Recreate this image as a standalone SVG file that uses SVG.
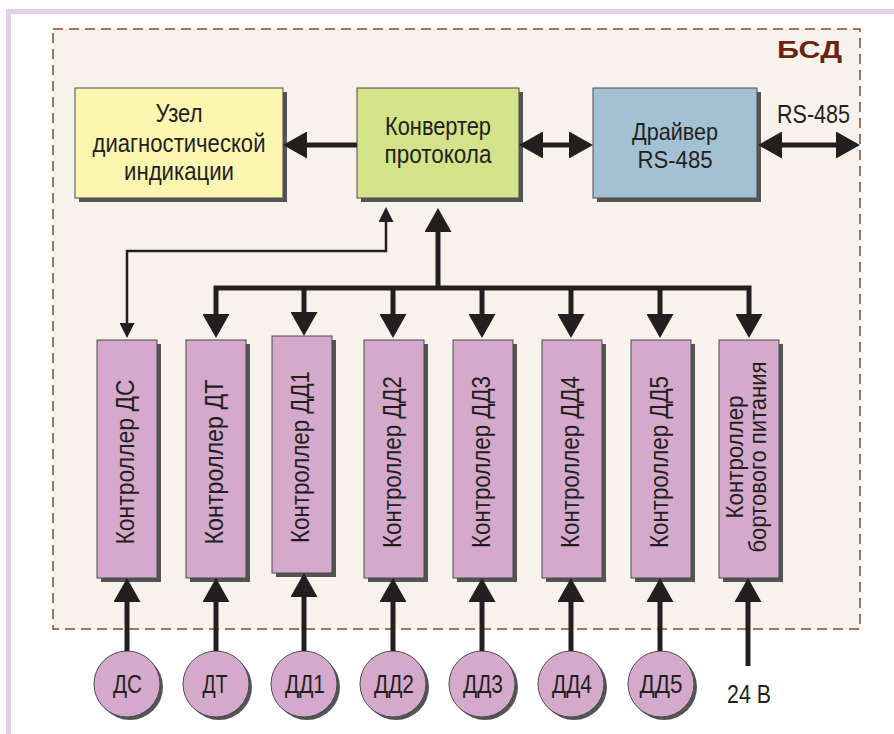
<svg xmlns="http://www.w3.org/2000/svg" width="894" height="734" viewBox="0 0 894 734">
  <style>
    .t { font-family: "Liberation Sans", Arial, sans-serif; font-size: 26px; fill: #231f20; text-anchor: middle; }
    .sh { fill: #545454; }
    .box { stroke: #4a4a4a; stroke-width: 1; }
    .yel { fill: #fdf6b0; }
    .grn { fill: #d4e28a; }
    .blu { fill: #a4c1d3; }
    .pur { fill: #d4a9cc; }
    .thick { fill: none; stroke: #231f20; stroke-width: 5; stroke-linejoin: miter; }
    .thin { fill: none; stroke: #231f20; stroke-width: 2.5; stroke-linejoin: miter; }
  </style>
  <defs>
    <marker id="ah" markerUnits="userSpaceOnUse" viewBox="0 0 24 27" markerWidth="24" markerHeight="27" refX="0" refY="13.5" orient="auto-start-reverse">
      <path d="M0,0 L24,13.5 L0,27 z" fill="#231f20"/>
    </marker>
    <marker id="as" markerUnits="userSpaceOnUse" viewBox="0 0 15 15" markerWidth="15" markerHeight="15" refX="0" refY="7.5" orient="auto-start-reverse">
      <path d="M0,0 L15,7.5 L0,15 z" fill="#231f20"/>
    </marker>
  </defs>

  <!-- page -->
  <rect width="894" height="734" fill="#ffffff"/>
  <path d="M8.5,734 V11.5 H894" fill="none" stroke="#e2d0e8" stroke-width="5"/>

  <!-- block boundary -->
  <g id="bsd">
    <rect x="53" y="29" width="807" height="600" fill="#f7f3ec" stroke="#8b4a2b" stroke-width="1.5" stroke-dasharray="10 6"/>
    <text x="809.5" y="58" textLength="65" lengthAdjust="spacingAndGlyphs" style="font-family:'Liberation Sans',Arial,sans-serif;font-size:24px;font-weight:bold;fill:#6b2410;text-anchor:middle">БСД</text>
  </g>

  <g id="node-indication">
    <rect class="sh" x="79" y="92" width="208" height="110"/>
    <rect class="box yel" x="75" y="88" width="208" height="110"/>
    <text class="t" x="179" y="122" textLength="47" lengthAdjust="spacingAndGlyphs">Узел</text>
    <text class="t" x="179" y="152" textLength="173" lengthAdjust="spacingAndGlyphs">диагностической</text>
    <text class="t" x="179" y="180" textLength="110" lengthAdjust="spacingAndGlyphs">индикации</text>
  </g>

  <g id="node-converter">
    <rect class="sh" x="361" y="92" width="162" height="110"/>
    <rect class="box grn" x="357" y="88" width="162" height="110"/>
    <text class="t" x="438" y="135" textLength="106" lengthAdjust="spacingAndGlyphs">Конвертер</text>
    <text class="t" x="438" y="163" textLength="107" lengthAdjust="spacingAndGlyphs">протокола</text>
  </g>

  <g id="node-driver">
    <rect class="sh" x="597" y="92" width="164" height="110"/>
    <rect class="box blu" x="593" y="88" width="164" height="110"/>
    <text class="t" style="font-size:24px" x="675" y="140" textLength="86" lengthAdjust="spacingAndGlyphs">Драйвер</text>
    <text class="t" style="font-size:24px" x="675" y="168" textLength="75" lengthAdjust="spacingAndGlyphs">RS-485</text>
  </g>

  <text class="t" x="813.5" y="123" textLength="73" lengthAdjust="spacingAndGlyphs">RS-485</text>

  <!-- controllers -->
  <g id="ctrl-ds">
    <rect class="sh" x="101" y="344" width="60" height="238"/>
    <rect class="box pur" x="97" y="340" width="60" height="238"/>
    <text class="t" transform="translate(134,462) rotate(-90)" textLength="165" lengthAdjust="spacingAndGlyphs">Контроллер ДС</text>
  </g>
  <g id="ctrl-dt">
    <rect class="sh" x="190" y="344" width="60" height="238"/>
    <rect class="box pur" x="186" y="340" width="60" height="238"/>
    <text class="t" transform="translate(223,462) rotate(-90)" textLength="165" lengthAdjust="spacingAndGlyphs">Контроллер ДТ</text>
  </g>
  <g id="ctrl-dd1">
    <rect class="sh" x="276" y="340" width="60" height="237"/>
    <rect class="box pur" x="272" y="336" width="60" height="237"/>
    <text class="t" transform="translate(309,457) rotate(-90)" textLength="172" lengthAdjust="spacingAndGlyphs">Контроллер ДД1</text>
  </g>
  <g id="ctrl-dd2">
    <rect class="sh" x="368" y="344" width="60" height="238"/>
    <rect class="box pur" x="364" y="340" width="60" height="238"/>
    <text class="t" transform="translate(401,462) rotate(-90)" textLength="172" lengthAdjust="spacingAndGlyphs">Контроллер ДД2</text>
  </g>
  <g id="ctrl-dd3">
    <rect class="sh" x="457" y="344" width="60" height="238"/>
    <rect class="box pur" x="453" y="340" width="60" height="238"/>
    <text class="t" transform="translate(490,462) rotate(-90)" textLength="172" lengthAdjust="spacingAndGlyphs">Контроллер ДД3</text>
  </g>
  <g id="ctrl-dd4">
    <rect class="sh" x="546" y="344" width="60" height="238"/>
    <rect class="box pur" x="542" y="340" width="60" height="238"/>
    <text class="t" transform="translate(579,462) rotate(-90)" textLength="172" lengthAdjust="spacingAndGlyphs">Контроллер ДД4</text>
  </g>
  <g id="ctrl-dd5">
    <rect class="sh" x="635" y="344" width="60" height="238"/>
    <rect class="box pur" x="631" y="340" width="60" height="238"/>
    <text class="t" transform="translate(668,462) rotate(-90)" textLength="172" lengthAdjust="spacingAndGlyphs">Контроллер ДД5</text>
  </g>
  <g id="ctrl-power">
    <rect class="sh" x="723" y="344" width="60" height="238"/>
    <rect class="box pur" x="719" y="340" width="60" height="238"/>
    <text class="t" style="font-size:24px" transform="translate(743,457) rotate(-90)" textLength="123" lengthAdjust="spacingAndGlyphs">Контроллер</text>
    <text class="t" style="font-size:24px" transform="translate(766,457) rotate(-90)" textLength="191" lengthAdjust="spacingAndGlyphs">бортового питания</text>
  </g>

  <!-- sensors -->
  <g id="sensor-ds">
    <circle class="sh" cx="130" cy="687" r="33"/>
    <circle class="box pur" cx="127" cy="684" r="33"/>
    <text class="t" x="127.5" y="693" textLength="29" lengthAdjust="spacingAndGlyphs">ДС</text>
  </g>
  <g id="sensor-dt">
    <circle class="sh" cx="219" cy="687" r="33"/>
    <circle class="box pur" cx="216" cy="684" r="33"/>
    <text class="t" x="215" y="693" textLength="25" lengthAdjust="spacingAndGlyphs">ДТ</text>
  </g>
  <g id="sensor-dd1">
    <circle class="sh" cx="307" cy="687" r="33"/>
    <circle class="box pur" cx="304" cy="684" r="33"/>
    <text class="t" x="305" y="693" textLength="40" lengthAdjust="spacingAndGlyphs">ДД1</text>
  </g>
  <g id="sensor-dd2">
    <circle class="sh" cx="396" cy="687" r="33"/>
    <circle class="box pur" cx="393" cy="684" r="33"/>
    <text class="t" x="394" y="693" textLength="40" lengthAdjust="spacingAndGlyphs">ДД2</text>
  </g>
  <g id="sensor-dd3">
    <circle class="sh" cx="485" cy="687" r="33"/>
    <circle class="box pur" cx="482" cy="684" r="33"/>
    <text class="t" x="483" y="693" textLength="40" lengthAdjust="spacingAndGlyphs">ДД3</text>
  </g>
  <g id="sensor-dd4">
    <circle class="sh" cx="574" cy="687" r="33"/>
    <circle class="box pur" cx="571" cy="684" r="33"/>
    <text class="t" x="572" y="693" textLength="40" lengthAdjust="spacingAndGlyphs">ДД4</text>
  </g>
  <g id="sensor-dd5">
    <circle class="sh" cx="664" cy="687" r="33"/>
    <circle class="box pur" cx="661" cy="684" r="33"/>
    <text class="t" x="661" y="693" textLength="43" lengthAdjust="spacingAndGlyphs">ДД5</text>
  </g>
  <text class="t" x="749" y="703" textLength="44" lengthAdjust="spacingAndGlyphs">24 В</text>

  <!-- connectors -->
  <g id="connectors">
    <path class="thick" d="M357,145 H307" marker-end="url(#ah)"/>
    <path class="thick" d="M543,145 H569" marker-start="url(#ah)" marker-end="url(#ah)"/>
    <path class="thick" d="M782,145 H836" marker-start="url(#ah)" marker-end="url(#ah)"/>
    <path class="thin" d="M127,323 V251 H386 V222" marker-start="url(#as)" marker-end="url(#as)"/>
    <path class="thick" d="M438,288 V232" marker-end="url(#ah)"/>
    <path class="thick" d="M216,314 V288 H749 V314" marker-start="url(#ah)" marker-end="url(#ah)"/>
    <path class="thick" d="M304,288 V312" marker-end="url(#ah)"/>
    <path class="thick" d="M393,288 V314" marker-end="url(#ah)"/>
    <path class="thick" d="M482,288 V314" marker-end="url(#ah)"/>
    <path class="thick" d="M571,288 V314" marker-end="url(#ah)"/>
    <path class="thick" d="M660,288 V314" marker-end="url(#ah)"/>
    <path class="thick" d="M127,651 V602" marker-end="url(#ah)"/>
    <path class="thick" d="M216,651 V602" marker-end="url(#ah)"/>
    <path class="thick" d="M304,651 V597" marker-end="url(#ah)"/>
    <path class="thick" d="M393,651 V602" marker-end="url(#ah)"/>
    <path class="thick" d="M482,651 V602" marker-end="url(#ah)"/>
    <path class="thick" d="M571,651 V602" marker-end="url(#ah)"/>
    <path class="thick" d="M660,651 V602" marker-end="url(#ah)"/>
    <path class="thick" d="M748,666 V602" marker-end="url(#ah)"/>
  </g>
</svg>
